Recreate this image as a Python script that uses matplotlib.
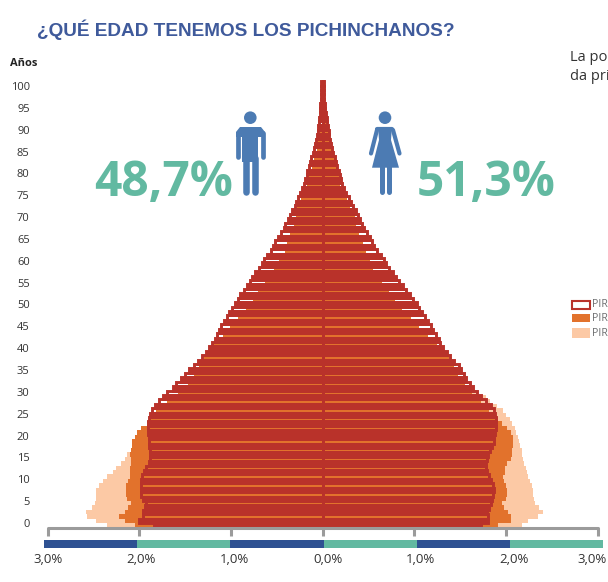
import matplotlib
matplotlib.use('Agg')
import matplotlib.pyplot as plt
from matplotlib.patches import Circle, Polygon, Rectangle
from matplotlib.transforms import ScaledTranslation

# porcentaje de poblacion por edad (indice = edad)
hombres = [1.85, 2.02, 1.97, 1.97, 1.95, 1.94, 1.97, 2.00, 2.00, 2.00,
           1.99, 1.98, 1.96, 1.94, 1.91, 1.90, 1.90, 1.90, 1.91, 1.91,
           1.91, 1.92, 1.92, 1.92, 1.91, 1.90, 1.87, 1.84, 1.80, 1.76,
           1.71, 1.65, 1.61, 1.56, 1.52, 1.47, 1.42, 1.37, 1.33, 1.29,
           1.25, 1.22, 1.19, 1.17, 1.14, 1.12, 1.09, 1.06, 1.03, 1.00,
           .97, .94, .91, .87, .84, .81, .78, .75, .71, .68,
           .65, .62, .58, .55, .53, .50, .47, .44, .42, .39,
           .37, .35, .32, .30, .28, .26, .24, .22, .21, .19,
           .18, .16, .15, .14, .12, .11, .10, .09, .08, .07,
           .06, .05, .05, .04, .04, .04, .03, .03, .03, .03, .03]
mujeres = [1.74, 1.82, 1.82, 1.81, 1.83, 1.85, 1.86, 1.87, 1.88, 1.87,
           1.85, 1.83, 1.81, 1.80, 1.80, 1.81, 1.82, 1.84, 1.86, 1.88,
           1.89, 1.90, 1.91, 1.91, 1.91, 1.90, 1.88, 1.85, 1.80, 1.74,
           1.70, 1.66, 1.62, 1.58, 1.56, 1.53, 1.50, 1.45, 1.41, 1.37,
           1.33, 1.30, 1.28, 1.25, 1.22, 1.20, 1.17, 1.13, 1.10, 1.07,
           1.04, 1.00, .97, .93, .89, .85, .82, .78, .74, .71,
           .68, .65, .61, .58, .55, .53, .50, .47, .45, .42,
           .40, .38, .35, .32, .30, .27, .25, .23, .22, .20,
           .19, .175, .16, .15, .13, .12, .11, .10, .09, .08,
           .07, .065, .06, .05, .04, .04, .035, .03, .03, .03, .03]
hombres_naranja = [2.05, 2.16, 2.22, 2.16, 2.12, 2.09, 2.13, 2.14, 2.14, 2.14,
                   2.12, 2.10, 2.10, 2.10, 2.09, 2.09, 2.10, 2.09, 2.08, 2.08,
                   2.05, 2.02, 1.98, 1.92, 1.89, 1.86, 1.82, 1.77, 1.70, 1.63,
                   1.58, 1.52, 1.47, 1.43, 1.40, 1.37, 1.35, 1.32, 1.29, 1.26,
                   1.22, 1.19, 1.14, 1.09, 1.05, 1.01, .96, .92, .88, .84,
                   .80, .76, .73, .70, .66, .63, .59, .56, .53, .50,
                   .48, .44, .41, .40, .39, .375, .36, .33, .31, .30,
                   .29, .28, .275, .25, .23, .21, .19, .175, .16, .15,
                   .13, .12, .10, .09, .07, .06, .055, .05, .04, .03, .02, .01]
mujeres_naranja = [1.91, 2.06, 2.06, 2.02, 1.98, 1.96, 2.00, 2.01, 2.01, 2.00,
                   1.98, 1.97, 1.99, 1.99, 2.01, 2.06, 2.07, 2.07, 2.08, 2.08,
                   2.08, 2.05, 2.01, 1.96, 1.91, 1.87, 1.82, 1.77, 1.73, 1.68,
                   1.63, 1.59, 1.55, 1.51, 1.48, 1.45, 1.43, 1.40, 1.38, 1.33,
                   1.29, 1.25, 1.20, 1.15, 1.10, 1.05, 1.00, .96, .91, .87,
                   .83, .79, .75, .72, .68, .65, .61, .58, .555, .53,
                   .515, .49, .47, .45, .44, .42, .40, .38, .37, .36,
                   .35, .32, .30, .29, .27, .24, .21, .19, .19, .18,
                   .17, .16, .15, .14, .12, .11, .10, .09, .08, .07, .05, .04]
hombres_claro = [2.35, 2.47, 2.57, 2.58, 2.52, 2.48, 2.47, 2.47, 2.47, 2.44,
                 2.40, 2.35, 2.29, 2.25, 2.20, 2.15, 2.13, 2.05, 2.05, 2.05,
                 2.00, 1.95, 1.90, 1.85, 1.85, 1.80, 1.75, 1.70, 1.60, 1.55, 1.50]
mujeres_claro = [2.17, 2.24, 2.35, 2.40, 2.36, 2.32, 2.31, 2.30, 2.29, 2.28,
                 2.26, 2.24, 2.23, 2.22, 2.20, 2.19, 2.18, 2.17, 2.15, 2.14,
                 2.13, 2.11, 2.10, 2.07, 2.04, 2.00, 1.97, 1.90, 1.83, 1.78, 1.70]
# filas de la piramide roja donde se ve el interior
filas_abiertas = [2, 5, 7, 9, 11, 13, 15, 17, 19, 22, 24, 26, 28, 30, 32, 34, 36,
                  38, 41, 43, 45, 47, 49, 51, 53, 55, 58, 60, 62, 64, 66, 68, 70,
                  72, 74, 77, 79, 81, 83, 85, 87, 89, 91]

edades = list(range(101))
etiquetas_edad = list(range(0, 101, 5))
ticks_x = [-3, -2, -1, 0, 1, 2, 3]
etiquetas_x = ['3,0%', '2,0%', '1,0%', '0,0%', '1,0%', '2,0%', '3,0%']

ROJO = '#B9322A'
NARANJA = '#E2722C'
CLARO = '#FCC9A5'
VERDE = '#62B9A1'
AZUL = '#2E5192'
ICONO = '#4C7BB3'
GRIS = '#9B9B9B'
W, H = 608, 582

plt.rcParams['font.family'] = ['Open Sans', 'DejaVu Sans']


def caja(x0, y0, x1, y1):
    # rectangulo en pixeles de la imagen -> fraccion de figura
    return [x0 / W, 1 - y1 / H, (x1 - x0) / W, (y1 - y0) / H]


fig = plt.figure(figsize=(W / 100, H / 100), dpi=100)

# piramide
ax = fig.add_axes(caja(47.5, 60, 597.6, 528))
ax.set_xlim(-3, 3)
ax.set_ylim(-0.61, 105.3)
ax.barh(edades[:len(hombres_claro)], [-v for v in hombres_claro], height=1.03, color=CLARO, lw=0)
ax.barh(edades[:len(mujeres_claro)], mujeres_claro, height=1.03, color=CLARO, lw=0)
ax.barh(edades[:len(hombres_naranja)], [-v for v in hombres_naranja], height=1.03, color=NARANJA, lw=0)
ax.barh(edades[:len(mujeres_naranja)], mujeres_naranja, height=1.03, color=NARANJA, lw=0)
for lado, serie in ((-1, hombres), (1, mujeres)):
    for edad, v in zip(edades, serie):
        relleno = 'none' if edad in filas_abiertas else ROJO
        ax.barh(edad, lado * max(v - 0.015, 0.005), height=1, facecolor=relleno,
                edgecolor=ROJO, lw=2.1, clip_on=False)

for s in ('top', 'left', 'right'):
    ax.spines[s].set_visible(False)
ax.spines['bottom'].set_color(GRIS)
ax.spines['bottom'].set_linewidth(2.2)
ax.spines['bottom'].set_capstyle('round')
ax.set_yticks([])
ax.set_xticks(ticks_x)
ax.tick_params(axis='x', length=5.5, width=2.2, color=GRIS, labelbottom=False)
ax.patch.set_alpha(0)

# eje de edades, con su propia escala
ax_edad = fig.add_axes(caja(38, 86, 40, 523))
ax_edad.set_ylim(0, 100)
ax_edad.set_xticks([])
ax_edad.set_yticks(etiquetas_edad)
ax_edad.tick_params(axis='y', length=0, pad=6, labelsize=8, labelcolor='#333333')
for s in ax_edad.spines.values():
    s.set_visible(False)

# franja de colores y etiquetas del eje x
ax_banda = fig.add_axes(caja(44, 540, 603, 547.5))
ax_banda.set_xlim(0, 6)
ax_banda.set_ylim(0, 1)
for i in range(6):
    ax_banda.bar(i, 1, width=1, align='edge', color=AZUL if i % 2 == 0 else VERDE, lw=0)
ax_banda.set_yticks([])
ax_banda.set_xticks(range(7))
ax_banda.set_xticklabels(etiquetas_x)
ax_banda.tick_params(axis='x', length=0, pad=4, labelsize=9.5, labelcolor='#333333')
desplazamiento = ScaledTranslation(4 / 100, 0, fig.dpi_scale_trans)
for et in ax_banda.get_xticklabels():
    et.set_transform(et.get_transform() + desplazamiento)
ax_banda.get_xticklabels()[-1].set_ha('right')
for s in ax_banda.spines.values():
    s.set_visible(False)

# capa en pixeles para titulo, iconos y leyenda
capa = fig.add_axes([0, 0, 1, 1], zorder=5)
capa.set_xlim(0, W)
capa.set_ylim(H, 0)
capa.axis('off')

capa.text(37, 36, '¿QUÉ EDAD TENEMOS LOS PICHINCHANOS?', fontsize=13.7, fontweight='bold',
          color='#3F5A9B', family=['Liberation Sans', 'DejaVu Sans'], va='baseline')
capa.text(10, 63, 'Años', fontsize=8, fontweight='bold', color='#222222', va='center')
capa.text(570, 60.7, 'La po', fontsize=10.5, color='#333333', va='baseline')
capa.text(570, 80, 'da pri', fontsize=10.5, color='#333333', va='baseline')
capa.text(94, 196, '48,7%', fontsize=34.5, fontweight='bold', color=VERDE, va='baseline')
capa.text(417, 196, '51,3%', fontsize=34.5, fontweight='bold', color=VERDE, va='baseline')

# hombre
capa.add_patch(Circle((250.3, 117.7), 6.3, color=ICONO, lw=0))
capa.add_patch(Polygon([(236, 137), (236, 132), (240, 127), (261, 127), (265, 132), (265, 137)],
                       color=ICONO, lw=0))
capa.add_patch(Rectangle((242.3, 130), 15.6, 32, color=ICONO, lw=0))
for x in (238.4, 262.5):
    capa.plot([x, x], [133, 157], color=ICONO, lw=3.4, solid_capstyle='round')
for x in (245.7, 254.7):
    capa.plot([x, x], [158, 192], color=ICONO, lw=4.7, solid_capstyle='round')

# mujer
capa.add_patch(Circle((385, 117.7), 6.3, color=ICONO, lw=0))
capa.add_patch(Polygon([(378, 127), (392, 127), (391, 140), (399, 167.7), (372, 167.7), (379, 140)],
                       color=ICONO, lw=0))
capa.plot([377, 371], [130, 153.5], color=ICONO, lw=3, solid_capstyle='round')
capa.plot([393, 399.5], [130, 153.5], color=ICONO, lw=3, solid_capstyle='round')
capa.plot([377, 392], [128.5, 128.5], color=ICONO, lw=3, solid_capstyle='round')
for x in (381.7, 389.3):
    capa.plot([x, x], [165, 192], color=ICONO, lw=3.6, solid_capstyle='round')

# leyenda
capa.add_patch(Rectangle((571.5, 300.5), 18.5, 8, facecolor='white', edgecolor=ROJO, lw=1.5))
capa.add_patch(Rectangle((571.5, 314.3), 18, 8, color=NARANJA, lw=0))
capa.add_patch(Rectangle((571.5, 328.3), 18, 9.4, color=CLARO, lw=0))
for y in (304.5, 318.5, 333):
    capa.text(591.8, y, 'PIR', fontsize=7.7, color='#6D6E70', va='center')

fig.savefig('out.png', dpi=100)
